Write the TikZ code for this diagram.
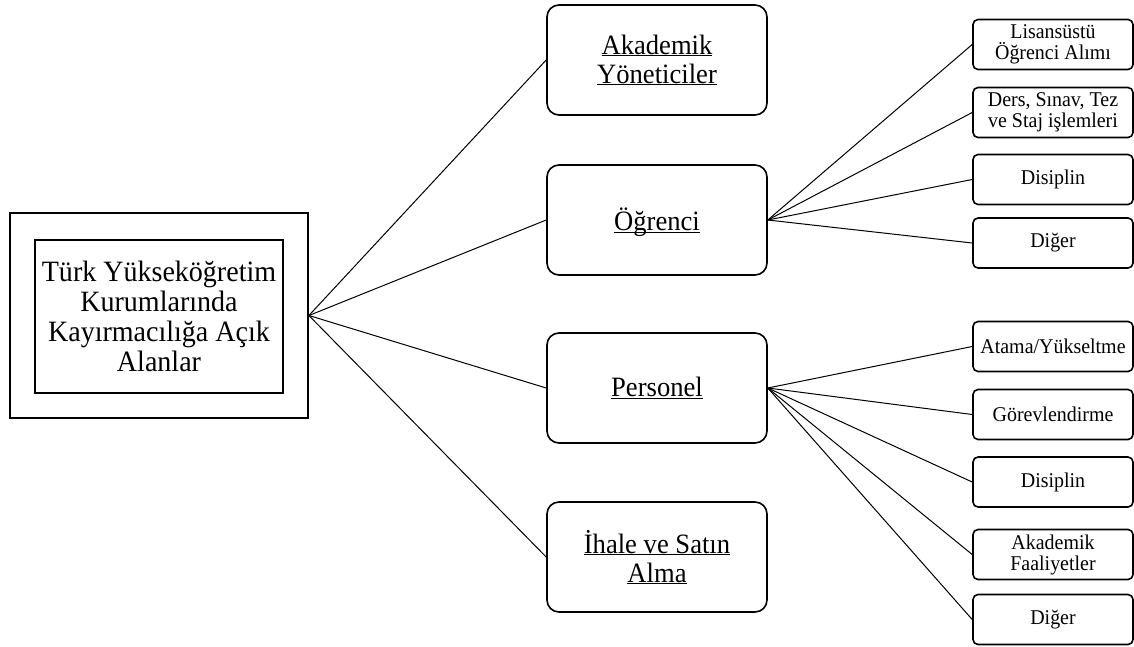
\documentclass[tikz,border=0pt]{standalone}
\usepackage{fontspec}
\setmainfont{Liberation Serif}[FakeStretch=0.95]
\usetikzlibrary{positioning}

\newcommand{\ulabel}[1]{\underline{\raisebox{0pt}[\height][0pt]{#1}}}

\begin{document}
\begin{tikzpicture}[x=1pt,y=-1pt,
  midbox/.style={rectangle,rounded corners=12pt,draw=black,line width=1.6pt,minimum width=220pt,minimum height=110pt,align=center,font=\fontsize{28}{29}\selectfont},
  leafbox/.style={rectangle,rounded corners=5pt,draw=black,line width=1.6pt,minimum width=160pt,minimum height=50pt,inner sep=1pt,align=center,font=\fontsize{21}{21}\selectfont}]

\useasboundingbox (0,0) rectangle (1134,646);

% draw root box
\node[draw=black,line width=1.8pt,minimum width=298pt,minimum height=205pt] (root) at (159,315.5) {};
\node[draw=black,line width=1.4pt,minimum width=248pt,minimum height=153pt,align=center,font=\fontsize{29.5}{30}\selectfont] (rootin) at (159,316.5) {Türk Yükseköğretim\\Kurumlarında\\Kayırmacılığa Açık\\Alanlar};

% draw middle boxes
\node[midbox] (akad) at (657,60) {\ulabel{Akademik}\\\ulabel{Yöneticiler}};
\node[midbox] (ogr) at (657,220) {\ulabel{Öğrenci}};
\node[midbox] (pers) at (657,388) {\ulabel{Personel}};
\node[midbox] (ihale) at (657,557) {\ulabel{İhale ve Satın}\\\ulabel{Alma}};

% draw student leaves
\foreach \i/\y/\txt in {1/44.5/{Lisansüstü\\Öğrenci Alımı},2/112.5/{Ders, Sınav, Tez\\ve Staj işlemleri},3/179.5/{Disiplin},4/243/{Diğer}}
{
  \node[leafbox] (ogrl\i) at (1053,\y) {\txt};
}

% draw staff leaves
\foreach \i/\y/\txt in {1/346.5/{Atama/Yükseltme},2/414.5/{Görevlendirme},3/482/{Disiplin},4/554.5/{Akademik\\Faaliyetler},5/619.5/{Diğer}}
{
  \node[leafbox] (persl\i) at (1053,\y) {\txt};
}

% connect root to middle boxes
\foreach \m in {akad,ogr,pers,ihale}
{
  \draw[line width=1pt] (root.east) -- (\m.west);
}

% connect middle boxes to leaves
\foreach \i in {1,...,4}
{
  \draw[line width=1pt] (ogr.east) -- (ogrl\i.west);
}
\foreach \i in {1,...,5}
{
  \draw[line width=1pt] (pers.east) -- (persl\i.west);
}

\end{tikzpicture}
\end{document}
